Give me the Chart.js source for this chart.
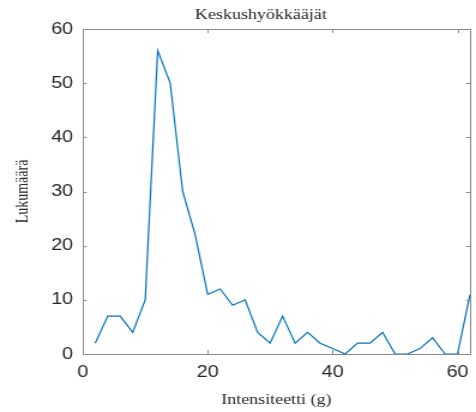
<!DOCTYPE html>
<html>
<head>
<meta charset="utf-8">
<script src="https://cdn.jsdelivr.net/npm/chart.js@4"></script>
<style>
  html, body { margin: 0; padding: 0; background: #fff; }
  #c { display: block; }
</style>
</head>
<body>
<!-- the canvas is drawn narrower and shown wider, giving the stretched look -->
<canvas id="c" width="397" height="412" style="width:476px;height:412px"></canvas>
<script>
// Intensity bins (g) and the count in each bin
const intensity = [2, 4, 6, 8, 10, 12, 14, 16, 18, 20, 22, 24, 26, 28, 30, 32,
                   34, 36, 38, 40, 42, 44, 46, 48, 50, 52, 54, 56, 58, 60, 62];
const counts = [2, 7, 7, 4, 10, 56, 50, 30, 22, 11, 12, 9, 10, 4, 2, 7,
                2, 4, 2, 1, 0, 2, 2, 4, 0, 0, 1, 3, 0, 0, 11];

const xTicks = [0, 20, 40, 60];
const yTicks = [0, 10, 20, 30, 40, 50, 60];

const chartTitle = 'Keskushyökkääjät';
const xLabel = 'Intensiteetti (g)';
const yLabel = 'Lukumäärä';

const axisColor = '#8a8a8a';
const textColor = '#262626';
const lineColor = '#0072BD';
const serif = '"Liberation Serif", "Times New Roman", serif';
const sans = '"Liberation Sans", Arial, sans-serif';

// Full box around the plot with inward tick marks on all four sides
const boxPlugin = {
  id: 'boxPlugin',
  afterDatasetsDraw(chart) {
    const { ctx, chartArea: a, scales } = chart;
    ctx.save();
    ctx.strokeStyle = axisColor;
    ctx.lineWidth = 1;
    ctx.strokeRect(Math.round(a.left) + 0.5, Math.round(a.top) + 0.5,
                   Math.round(a.right - a.left), Math.round(a.bottom - a.top));
    const tl = 4, tlx = 3.3;
    ctx.beginPath();
    scales.x.ticks.forEach(t => {
      const px = Math.round(scales.x.getPixelForValue(t.value)) + 0.5;
      ctx.moveTo(px, a.bottom); ctx.lineTo(px, a.bottom - tl);
      ctx.moveTo(px, a.top); ctx.lineTo(px, a.top + tl);
    });
    scales.y.ticks.forEach(t => {
      const py = Math.round(scales.y.getPixelForValue(t.value)) + 0.5;
      ctx.moveTo(a.left, py); ctx.lineTo(a.left + tlx, py);
      ctx.moveTo(a.right, py); ctx.lineTo(a.right - tlx, py);
    });
    ctx.stroke();
    ctx.restore();
  }
};

// Title above the plot
const titlePlugin = {
  id: 'titlePlugin',
  afterDraw(chart) {
    const { ctx, chartArea: a } = chart;
    ctx.save();
    ctx.font = '15px ' + serif;
    ctx.fillStyle = textColor;
    ctx.textAlign = 'center';
    ctx.textBaseline = 'middle';
    ctx.fillText(chartTitle, a.left + (a.right - a.left) * 0.46, 15);
    ctx.restore();
  }
};

new Chart(document.getElementById('c'), {
  type: 'line',
  data: {
    datasets: [{
      data: intensity.map((x, i) => ({ x: x, y: counts[i] })),
      borderColor: lineColor,
      borderWidth: 1.2,
      pointRadius: 0,
      tension: 0,
      fill: false
    }]
  },
  options: {
    responsive: false,
    animation: false,
    layout: { padding: { top: 29, right: 5, left: 0, bottom: 0 } },
    plugins: { legend: { display: false }, tooltip: { enabled: false } },
    scales: {
      x: {
        type: 'linear',
        min: 0,
        max: 62,
        afterFit(s) { s.height = 58; s.paddingLeft = 0; s.paddingRight = 0; },
        afterBuildTicks(s) { s.ticks = xTicks.map(v => ({ value: v })); },
        grid: { display: false, drawTicks: false },
        border: { display: false },
        ticks: {
          padding: 9,
          color: textColor,
          font: { family: sans, size: 16.5 },
          maxRotation: 0,
          callback: v => String(v)
        },
        title: {
          display: true,
          text: xLabel,
          color: textColor,
          font: { family: serif, size: 15 },
          padding: { top: 0, bottom: 3 }
        }
      },
      y: {
        min: 0,
        max: 60,
        afterFit(s) { s.width = 69; s.paddingTop = 0; s.paddingBottom = 0; },
        afterBuildTicks(s) { s.ticks = yTicks.map(v => ({ value: v })); },
        grid: { display: false, drawTicks: false },
        border: { display: false },
        ticks: {
          padding: 8,
          color: textColor,
          font: { family: sans, size: 16.5 },
          callback: v => String(v)
        },
        title: {
          display: true,
          text: yLabel,
          color: textColor,
          font: { family: serif, size: 14 },
          padding: { top: 11, bottom: 0 }
        }
      }
    }
  },
  plugins: [boxPlugin, titlePlugin]
});
</script>
</body>
</html>
